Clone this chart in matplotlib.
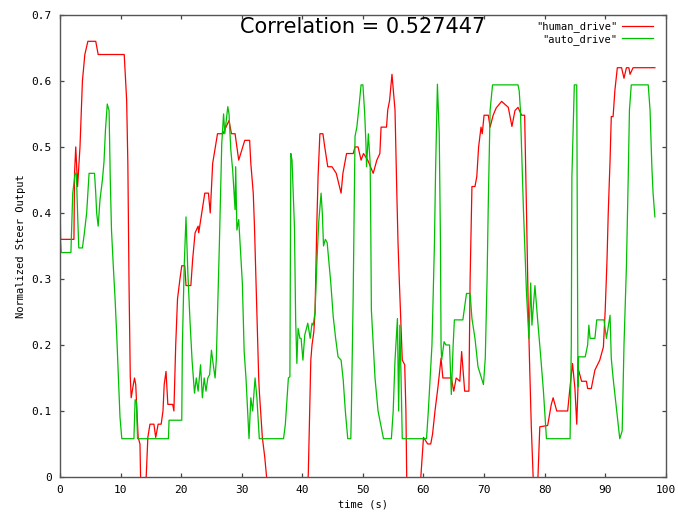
"""Human vs auto steering output, gnuplot-style line chart -> out.png"""
import matplotlib

matplotlib.use("Agg")
import matplotlib.pyplot as plt  # noqa: E402

# human_drive (red): time (s) and normalized steer output
human_t = [
    0.0, 0.05, 0.1, 2.3, 2.4, 2.6, 2.9, 3.1, 3.3, 3.5,
    3.7, 4.1, 4.6, 5.9, 6.3, 10.6, 11.0, 11.2, 11.4, 11.6,
    11.75, 12.1, 12.3, 12.5, 12.9, 13.2, 13.4, 14.0, 14.5, 14.85,
    15.5, 15.8, 16.2, 16.7, 17.0, 17.2, 17.5, 17.8, 18.6, 18.8,
    19.1, 19.4, 19.8, 20.1, 20.6, 20.8, 21.6, 21.9, 22.3, 22.8,
    22.9, 23.4, 23.9, 24.5, 24.8, 25.2, 26.0, 26.9, 27.4, 27.9,
    28.3, 28.9, 29.5, 30.5, 31.3, 31.5, 31.9, 32.1, 32.4, 32.8,
    32.9, 33.4, 33.8, 34.1, 34.3, 40.8, 41.0, 41.4, 41.6, 41.9,
    42.1, 42.4, 42.6, 42.9, 43.4, 43.7, 44.2, 44.9, 45.6, 46.4,
    46.7, 47.3, 48.4, 48.7, 49.2, 49.7, 50.1, 50.8, 51.7, 52.3,
    52.8, 53.0, 53.9, 54.1, 54.4, 54.8, 55.3, 55.6, 55.8, 56.0,
    56.5, 56.9, 57.1, 57.3, 59.2, 60.0, 60.7, 61.2, 61.5, 61.9,
    62.4, 62.9, 63.2, 64.6, 65.0, 65.4, 66.0, 66.3, 66.8, 67.5,
    67.7, 68.0, 68.5, 68.8, 69.1, 69.5, 69.7, 70.0, 70.7, 71.0,
    71.5, 72.0, 72.9, 74.0, 74.6, 75.1, 75.6, 76.2, 76.7, 77.0,
    77.3, 77.5, 77.8, 78.1, 78.3, 78.7, 79.2, 80.5, 81.1, 81.4,
    82.0, 83.8, 84.2, 84.6, 85.0, 85.3, 85.6, 86.1, 86.9, 87.1,
    87.7, 88.3, 89.1, 89.7, 90.0, 90.3, 90.5, 90.8, 91.0, 91.3,
    91.6, 92.0, 92.7, 93.1, 93.5, 93.9, 94.1, 94.6, 98.2,
]
human_y = [
    0.43, 0.40, 0.36, 0.36, 0.46, 0.50, 0.44, 0.47, 0.50, 0.55,
    0.60, 0.64, 0.66, 0.66, 0.64, 0.64, 0.571, 0.475, 0.288, 0.152,
    0.12, 0.14, 0.15, 0.14, 0.06, 0.05, -0.05, -0.05, 0.06, 0.08,
    0.08, 0.06, 0.08, 0.08, 0.10, 0.14, 0.16, 0.11, 0.11, 0.10,
    0.20, 0.27, 0.30, 0.32, 0.32, 0.29, 0.29, 0.33, 0.37, 0.38,
    0.37, 0.40, 0.43, 0.43, 0.40, 0.475, 0.52, 0.52, 0.53, 0.54,
    0.52, 0.52, 0.48, 0.51, 0.51, 0.475, 0.43, 0.38, 0.28, 0.15,
    0.13, 0.06, 0.03, 0.0, -0.05, -0.05, 0.01, 0.177, 0.20, 0.22,
    0.25, 0.385, 0.455, 0.52, 0.52, 0.50, 0.47, 0.47, 0.46, 0.43,
    0.46, 0.49, 0.49, 0.50, 0.50, 0.48, 0.49, 0.48, 0.46, 0.48,
    0.49, 0.53, 0.53, 0.556, 0.57, 0.61, 0.556, 0.43, 0.354, 0.30,
    0.177, 0.17, 0.10, -0.05, -0.05, 0.06, 0.05, 0.05, 0.065, 0.10,
    0.137, 0.18, 0.15, 0.15, 0.13, 0.15, 0.145, 0.19, 0.13, 0.13,
    0.30, 0.44, 0.44, 0.455, 0.50, 0.53, 0.52, 0.548, 0.548, 0.53,
    0.548, 0.559, 0.569, 0.56, 0.531, 0.555, 0.56, 0.548, 0.548, 0.405,
    0.253, 0.177, 0.076, 0.0, -0.05, -0.05, 0.076, 0.078, 0.11, 0.12,
    0.10, 0.10, 0.137, 0.172, 0.134, 0.08, 0.162, 0.145, 0.145, 0.134,
    0.134, 0.162, 0.177, 0.197, 0.253, 0.33, 0.40, 0.48, 0.546, 0.546,
    0.586, 0.62, 0.62, 0.604, 0.62, 0.62, 0.61, 0.62, 0.62,
]

# auto_drive (green)
auto_t = [
    0.0, 0.2, 1.8, 2.1, 2.5, 2.7, 2.9, 3.1, 3.7, 4.0,
    4.4, 4.8, 5.7, 5.9, 6.05, 6.3, 6.6, 7.0, 7.26, 7.5,
    7.8, 8.1, 8.3, 8.5, 8.8, 9.1, 9.35, 9.6, 9.9, 10.2,
    12.2, 12.4, 12.6, 12.8, 17.9, 18.0, 20.1, 20.2, 20.5, 20.8,
    21.1, 21.45, 21.8, 22.2, 22.5, 22.8, 23.2, 23.5, 23.8, 24.1,
    24.4, 24.7, 25.0, 25.3, 25.6, 25.8, 26.1, 26.3, 26.7, 27.0,
    27.2, 27.7, 27.9, 28.2, 28.5, 28.9, 29.0, 29.2, 29.5, 30.1,
    30.4, 30.7, 31.2, 31.5, 31.8, 32.2, 32.5, 32.9, 36.9, 37.2,
    37.7, 37.95, 38.1, 38.3, 38.7, 38.9, 39.1, 39.3, 39.6, 39.8,
    40.1, 40.4, 40.9, 41.3, 41.6, 41.8, 42.1, 42.4, 42.7, 43.1,
    43.3, 43.5, 43.8, 44.1, 44.4, 44.7, 45.1, 45.5, 45.9, 46.4,
    46.75, 47.1, 47.5, 48.0, 48.1, 48.4, 48.7, 49.0, 49.3, 49.7,
    50.0, 50.3, 50.5, 50.6, 50.9, 51.2, 51.3, 51.4, 52.0, 52.5,
    53.4, 54.7, 55.0, 55.3, 55.7, 55.9, 56.1, 56.3, 56.5, 60.5,
    60.8, 61.4, 61.8, 62.0, 62.3, 62.6, 62.8, 62.9, 63.0, 63.4,
    63.7, 64.3, 64.6, 64.9, 65.1, 66.5, 67.1, 67.7, 68.0, 68.5,
    69.0, 69.9, 70.2, 70.5, 70.7, 71.0, 71.4, 75.6, 75.8, 76.0,
    76.5, 77.0, 77.4, 77.7, 77.9, 78.4, 78.8, 79.4, 79.8, 80.3,
    84.2, 84.4, 84.5, 84.9, 85.3, 85.4, 85.5, 85.6, 86.7, 87.1,
    87.3, 87.5, 88.1, 88.3, 88.6, 89.8, 90.2, 90.8, 91.0, 91.3,
    91.9, 92.4, 92.8, 93.1, 93.5, 93.8, 94.0, 94.3, 97.1, 97.4,
    97.7, 97.9, 98.2,
]
auto_y = [
    0.374, 0.34, 0.34, 0.43, 0.46, 0.46, 0.40, 0.347, 0.347, 0.368,
    0.40, 0.46, 0.46, 0.43, 0.40, 0.38, 0.42, 0.45, 0.477, 0.525,
    0.565, 0.555, 0.45, 0.374, 0.319, 0.268, 0.218, 0.162, 0.091, 0.058,
    0.058, 0.117, 0.115, 0.058, 0.058, 0.086, 0.086, 0.20, 0.319, 0.394,
    0.31, 0.238, 0.177, 0.127, 0.15, 0.13, 0.17, 0.12, 0.15, 0.13,
    0.15, 0.155, 0.192, 0.17, 0.15, 0.177, 0.278, 0.35, 0.505, 0.55,
    0.52, 0.561, 0.55, 0.495, 0.465, 0.405, 0.47, 0.374, 0.39, 0.294,
    0.19, 0.15, 0.058, 0.12, 0.10, 0.15, 0.12, 0.058, 0.058, 0.08,
    0.15, 0.152, 0.49, 0.48, 0.379, 0.238, 0.172, 0.225, 0.21, 0.21,
    0.177, 0.215, 0.233, 0.21, 0.233, 0.23, 0.25, 0.324, 0.385, 0.43,
    0.40, 0.35, 0.36, 0.355, 0.325, 0.294, 0.243, 0.21, 0.182, 0.177,
    0.147, 0.10, 0.058, 0.058, 0.10, 0.278, 0.516, 0.53, 0.556, 0.594,
    0.594, 0.55, 0.505, 0.47, 0.52, 0.475, 0.379, 0.253, 0.15, 0.10,
    0.058, 0.058, 0.10, 0.177, 0.24, 0.10, 0.23, 0.15, 0.058, 0.058,
    0.10, 0.20, 0.35, 0.465, 0.595, 0.52, 0.359, 0.20, 0.177, 0.205,
    0.20, 0.20, 0.125, 0.20, 0.238, 0.238, 0.278, 0.278, 0.24, 0.21,
    0.167, 0.14, 0.18, 0.30, 0.415, 0.556, 0.594, 0.594, 0.585, 0.556,
    0.405, 0.28, 0.21, 0.294, 0.23, 0.29, 0.243, 0.177, 0.13, 0.058,
    0.058, 0.20, 0.455, 0.594, 0.594, 0.38, 0.137, 0.182, 0.182, 0.20,
    0.23, 0.21, 0.21, 0.21, 0.238, 0.238, 0.21, 0.245, 0.18, 0.15,
    0.10, 0.058, 0.07, 0.20, 0.319, 0.455, 0.556, 0.594, 0.594, 0.556,
    0.47, 0.43, 0.394,
]

correlation = 0.527447
x_ticks = list(range(0, 101, 10))
y_ticks = [0, 0.1, 0.2, 0.3, 0.4, 0.5, 0.6, 0.7]
y_tick_labels = ["0", "0.1", "0.2", "0.3", "0.4", "0.5", "0.6", "0.7"]

MONO = "DejaVu Sans Mono"

fig = plt.figure(figsize=(6.78, 5.14), dpi=100)
ax = fig.add_axes([0.0885, 0.072, 0.8935, 0.899])

ax.plot(human_t, human_y, color="#ff0000", lw=0.9, label='"human_drive"')
ax.plot(auto_t, auto_y, color="#00c000", lw=0.9, label='"auto_drive"')

ax.set_xlim(0, 100)
ax.set_ylim(0, 0.7)
ax.set_xticks(x_ticks)
ax.set_yticks(y_ticks)
ax.set_yticklabels(y_tick_labels)
ax.tick_params(direction="in", length=3, width=0.9, top=True, right=True,
               labelsize=8, color="#444444", pad=6)
for lab in ax.get_xticklabels() + ax.get_yticklabels():
    lab.set_family(MONO)
for sp in ax.spines.values():
    sp.set_color("#555555")
    sp.set_linewidth(1.0)

ax.set_xlabel("time (s)", family=MONO, fontsize=7.5, labelpad=3)
ax.set_ylabel("Normalized Steer Output", family=MONO, fontsize=7.5, labelpad=4)

ax.text(0.5, 0.974, f"Correlation = {correlation}", transform=ax.transAxes,
        ha="center", va="center", fontsize=15)

ax.legend(loc="upper right", bbox_to_anchor=(0.99, 1.0), frameon=False,
          markerfirst=False, prop={"family": MONO, "size": 7.5},
          handlelength=3.0, borderaxespad=0.2, labelspacing=0.15,
          handletextpad=0.5)

fig.savefig("out.png", dpi=100)
